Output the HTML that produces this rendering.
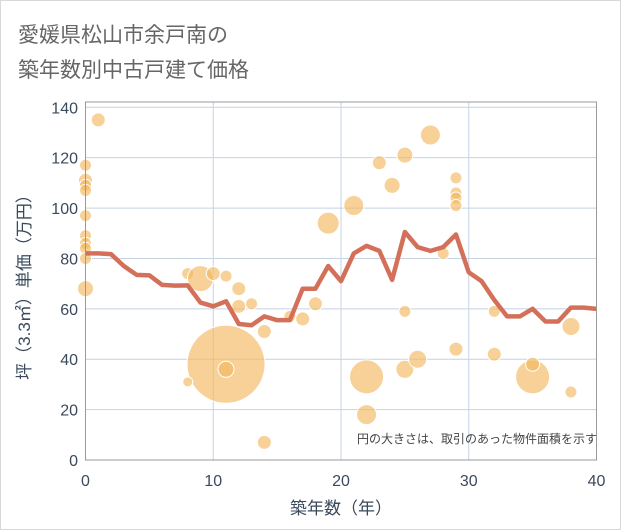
<!DOCTYPE html>
<html><head><meta charset="utf-8"><style>
body{margin:0;background:#fff;}
svg{display:block;font-family:"Liberation Sans","Noto Sans CJK JP",sans-serif;}
</style></head><body>
<svg width="621" height="530" viewBox="0 0 621 530">
<rect x="0.5" y="0.5" width="620" height="529" fill="#fff" stroke="#d8d8d8"/>
<text x="18" y="42" font-size="21" fill="#666">愛媛県松山市余戸南の</text>
<text x="18" y="77" font-size="21" fill="#666">築年数別中古戸建て価格</text>
<g id="grid"></g>
<g id="bubbles"></g>
<g id="line"></g>
<rect x="85.5" y="102" width="511" height="358" fill="none" stroke="#999"/>
<g id="ticks"></g>
<text x="597" y="443" font-size="12" fill="#444" text-anchor="end">円の大きさは、取引のあった物件面積を示す</text>
<text x="341" y="514" font-size="17" fill="#3a4a5c" text-anchor="middle">築年数（年）</text>
<text transform="translate(30,283) rotate(-90)" font-size="17" fill="#3a4a5c" text-anchor="middle">坪（3.3㎡）単価（万円）</text>
</svg>
<script>
const xTicks=[0,10,20,30,40];
const yTicks=[0,20,40,60,80,100,120,140];
const lineYears=[0,1,2,3,4,5,6,7,8,9,10,11,12,13,14,15,16,17,18,19,20,21,22,23,24,25,26,27,28,29,30,31,32,33,34,35,36,37,38,39,40];
const lineValues=[82,82,81.7,77,73.5,73.3,69.5,69.2,69.3,62.5,61,63,54,53.5,57,55.5,55.5,68,68,77,71,82,85,83,71.5,90.5,84.5,83,84.5,89.5,74.5,71,63.5,57,57,60,55,55,60.5,60.5,60];
const bubbleX=[0,0,0,0,0,0,0,0,0,0,1,8,9,10,11,12,12,13,14,16,17,18,19,11,11,8,14,21,22,22,23,24,25,25,25,26,27,28,29,29,29,29,29,32,32,35,35,38,38];
const bubbleY=[117,111,109,107,97,89,86,84,80,68,135,74,72,74,73,68,61,62,51,57,56,62,94,38,36,31,7,101,33,18,118,109,121,59,36,40,129,82,112,106,104,101,44,59,42,33,38,53,27];
const bubbleR=[6,7,6,6,6,6,6,6,6,8,7,6,13,7,6,7,7,6,7,6,7,7,11,39,8,5,7,10,17,10,7,8,8,6,9,9,10,6,6,6,6,6,7,6,7,17,7,9,6];
const NS="http://www.w3.org/2000/svg";
const X0=85.5,X1=596.5,Y0=460,Y1=107.3;
const sx=v=>X0+(v-0)/40*(X1-X0);
const sy=v=>Y0-(v-0)/140*(Y0-Y1);
const grid=document.getElementById('grid'),ticks=document.getElementById('ticks');
yTicks.forEach(t=>{
 const l=document.createElementNS(NS,'line');
 
 
 l.setAttribute('x1',X0);l.setAttribute('x2',X1);l.setAttribute('y1',sy(t));l.setAttribute('y2',sy(t));
 l.setAttribute('stroke','#c5d3e3');l.setAttribute('stroke-width','1');grid.appendChild(l);
 const tx=document.createElementNS(NS,'text');
 
 
 tx.setAttribute('x',78);tx.setAttribute('y',sy(t)+6);tx.setAttribute('text-anchor','end');
 tx.setAttribute('font-size','16');tx.setAttribute('fill','#3a4a5c');tx.textContent=t;ticks.appendChild(tx);
});
xTicks.forEach(t=>{
 const l=document.createElementNS(NS,'line');
 
 
 l.setAttribute('x1',sx(t));l.setAttribute('x2',sx(t));l.setAttribute('y1',102);l.setAttribute('y2',Y0);
 l.setAttribute('stroke','#c5d3e3');l.setAttribute('stroke-width','1');grid.appendChild(l);
 const tx=document.createElementNS(NS,'text');
 
 
 tx.setAttribute('x',sx(t));tx.setAttribute('y',486);tx.setAttribute('text-anchor','middle');
 tx.setAttribute('font-size','16');tx.setAttribute('fill','#3a4a5c');tx.textContent=t;ticks.appendChild(tx);
});
const bg=document.getElementById('bubbles');
bubbleX.forEach((x,i)=>{
 const c=document.createElementNS(NS,'circle');
 
 
 c.setAttribute('cx',sx(x));c.setAttribute('cy',sy(bubbleY[i]));c.setAttribute('r',bubbleR[i]);
 c.setAttribute('fill','#f3b95f');c.setAttribute('fill-opacity','0.65');c.setAttribute('stroke','#fff');c.setAttribute('stroke-width','1');
 bg.appendChild(c);
});
const p=document.createElementNS(NS,'polyline');


p.setAttribute('points',lineYears.map((x,i)=>sx(x)+','+sy(lineValues[i])).join(' '));
p.setAttribute('fill','none');p.setAttribute('stroke','#d4705a');p.setAttribute('stroke-width','4.5');p.setAttribute('stroke-linejoin','round');
document.getElementById('line').appendChild(p);
</script>
</body></html>
